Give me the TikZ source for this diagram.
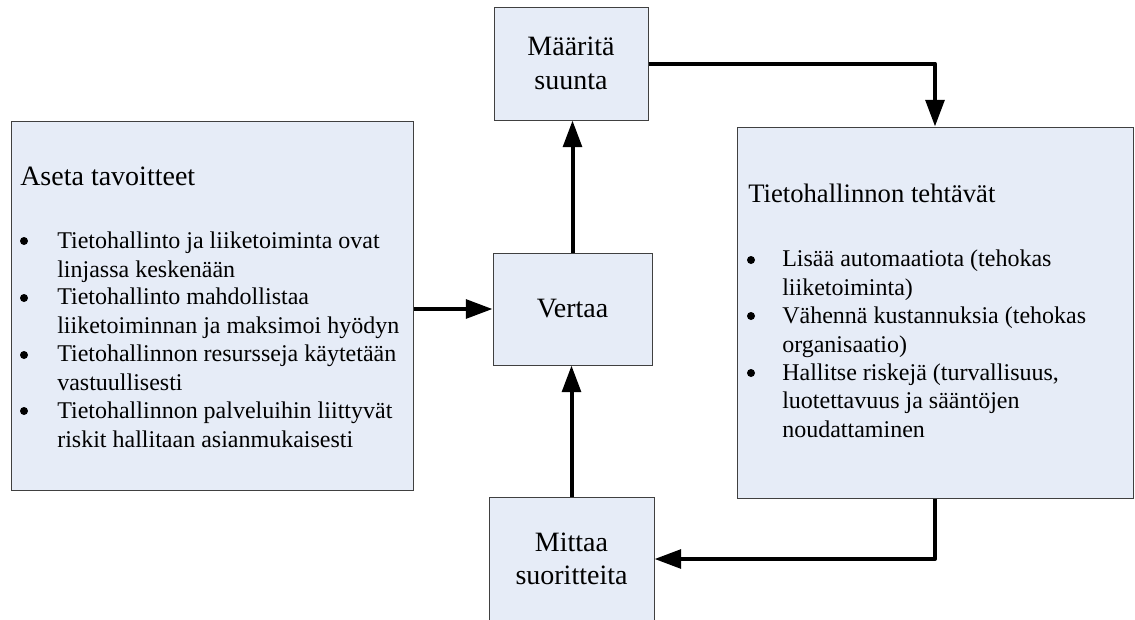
\documentclass[tikz,border=0pt]{standalone}
\usepackage{fontspec}
\setmainfont{Liberation Serif}
\usetikzlibrary{arrows.meta}
\definecolor{boxfill}{RGB}{230,236,247}
\definecolor{boxline}{RGB}{64,64,64}
\begin{document}
\begin{tikzpicture}[x=0.75pt,y=-0.75pt,
  box/.style={draw=boxline, line width=0.75pt, fill=boxfill, inner sep=0pt,
              align=center, font=\fontsize{21}{25}\selectfont},
  flow/.style={line width=3pt, line join=round, -{Triangle[length=20pt,width=14pt]}},
  head/.style={anchor=base west, inner sep=0pt},
  % multi-line items are placed by the baseline of their last line
  item/.style={anchor=base west, inner sep=0pt, align=left,
               font=\fontsize{18}{21.3}\selectfont},
  dot/.style={circle, fill=black, inner sep=0pt, minimum size=6pt}]
\useasboundingbox (0,0) rectangle (1135,619);

% boxes
\node[box, minimum width=301.5pt, minimum height=276.75pt] (goals) at (212,305.5) {};
\node[box, minimum width=115.5pt, minimum height=84.75pt] (dir) at (571,63.5) {Määritä\\suunta};
\node[box, minimum width=119.25pt, minimum height=84pt] (cmp) at (572.5,309) {Vertaa};
\node[box, minimum width=297pt, minimum height=278.25pt] (tasks) at (935,312.5) {};
\node[box, minimum width=123.75pt, minimum height=93pt] (meas) at (571.5,559) {Mittaa\\suoritteita};

% goals contents
\node[head, font=\fontsize{21}{25}\selectfont] (gtitle) at (20,185) {Aseta tavoitteet};
\node[dot] (gd1) at (24,241) {};
\node[item] (gi1) at (57,277) {Tietohallinto ja liiketoiminta ovat\\linjassa keskenään};
\node[dot] (gd2) at (24,298) {};
\node[item] (gi2) at (57,333) {Tietohallinto mahdollistaa\\liiketoiminnan ja maksimoi hyödyn};
\node[dot] (gd3) at (24,355) {};
\node[item] (gi3) at (57,390) {Tietohallinnon resursseja käytetään\\vastuullisesti};
\node[dot] (gd4) at (24,411) {};
\node[item] (gi4) at (57,447) {Tietohallinnon palveluihin liittyvät\\riskit hallitaan asianmukaisesti};

% tasks contents
\node[head, font=\fontsize{20}{24}\selectfont] (ttitle) at (748,202) {Tietohallinnon tehtävät};
\node[dot] (td1) at (751,260) {};
\node[item] (ti1) at (782,295) {Lisää automaatiota (tehokas\\liiketoiminta)};
\node[dot] (td2) at (751,316) {};
\node[item] (ti2) at (782,352) {Vähennä kustannuksia (tehokas\\organisaatio)};
\node[dot] (td3) at (751,373) {};
\node[item] (ti3) at (782,437) {Hallitse riskejä (turvallisuus,\\luotettavuus ja sääntöjen\\noudattaminen};

% connectors
\draw[flow] (goals.east |- cmp.west) -- (cmp.west);
\draw[flow] (cmp.north) -- (cmp.north |- dir.south);
\draw[flow] (dir.east) -| (tasks.north);
\draw[flow] (tasks.south) |- (meas.east);
\draw[flow] (meas.north) -- (meas.north |- cmp.south);
\end{tikzpicture}
\end{document}
